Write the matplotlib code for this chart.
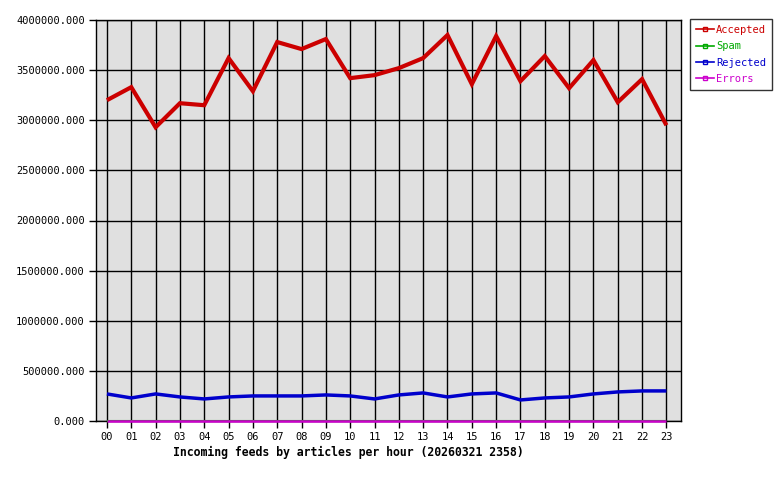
import matplotlib
matplotlib.use("Agg")
import matplotlib.pyplot as plt
from matplotlib.ticker import FuncFormatter

hours = ["00","01","02","03","04","05","06","07","08","09","10","11",
         "12","13","14","15","16","17","18","19","20","21","22","23"]
accepted = [3200000, 3330000, 2930000, 3170000, 3150000, 3620000, 3290000, 3780000,
            3710000, 3810000, 3420000, 3450000, 3520000, 3620000, 3850000, 3360000,
            3840000, 3390000, 3640000, 3320000, 3600000, 3180000, 3410000, 2950000]
spam = [0]*24
rejected = [270000, 230000, 270000, 240000, 220000, 240000, 250000, 250000,
            250000, 260000, 250000, 220000, 260000, 280000, 240000, 270000,
            280000, 210000, 230000, 240000, 270000, 290000, 300000, 300000]
errors = [0]*24

series = [("Accepted", accepted, "#cc0000", 3.0),
          ("Spam", spam, "#00aa00", 1.5),
          ("Rejected", rejected, "#0000cc", 2.5),
          ("Errors", errors, "#cc00cc", 1.8)]

font = "DejaVu Sans Mono"
plt.rcParams['font.family'] = [font]

fig = plt.figure(figsize=(7.8, 4.8), dpi=100)
ax = fig.add_axes([96/780, 59/480, 585/780, 401/480])
ax.set_facecolor("#e0e0e0")
x = list(range(len(hours)))
handles = []
for i, (name, vals, col, lw) in enumerate(series):
    ax.plot(x, vals, color=col, lw=lw, solid_joinstyle="miter", solid_capstyle="butt",
            zorder=5 + i, clip_on=False)
    h, = ax.plot([], [], color=col, lw=1.2, marker="s", markersize=2.5,
                 markerfacecolor="none", label=name)
    handles.append(h)

ax.set_xlim(-0.45, 23.6)
ax.set_ylim(0, 4000000)
ax.set_xticks(x)
ax.set_xticklabels(hours)
ax.set_yticks([i*500000 for i in range(9)])
ax.yaxis.set_major_formatter(FuncFormatter(lambda v, p: f"{v:.3f}"))
ax.grid(True, color="black", lw=1.0, zorder=1)
ax.set_axisbelow(True)
ax.tick_params(direction="out", length=5, width=1, labelsize=7.5, colors="black", pad=3)
for s in ax.spines.values():
    s.set_color("black")
    s.set_linewidth(1.0)

ax.set_xlabel("Incoming feeds by articles per hour (20260321 2358)",
              fontsize=8.3, fontweight="bold")
ax.xaxis.set_label_coords(0.432, -0.062)

leg = fig.legend(handles=handles, loc="upper left", bbox_to_anchor=(690/780, 1-19/480),
                 frameon=True, fontsize=7.5, handlelength=1.8, handletextpad=0.15,
                 borderpad=0.55, labelspacing=0.62, fancybox=False, borderaxespad=0)
leg.get_frame().set_edgecolor("black")
leg.get_frame().set_linewidth(1.0)
for t, (_, _, col, _) in zip(leg.get_texts(), series):
    t.set_color(col)

fig.savefig("out.png", dpi=100)
